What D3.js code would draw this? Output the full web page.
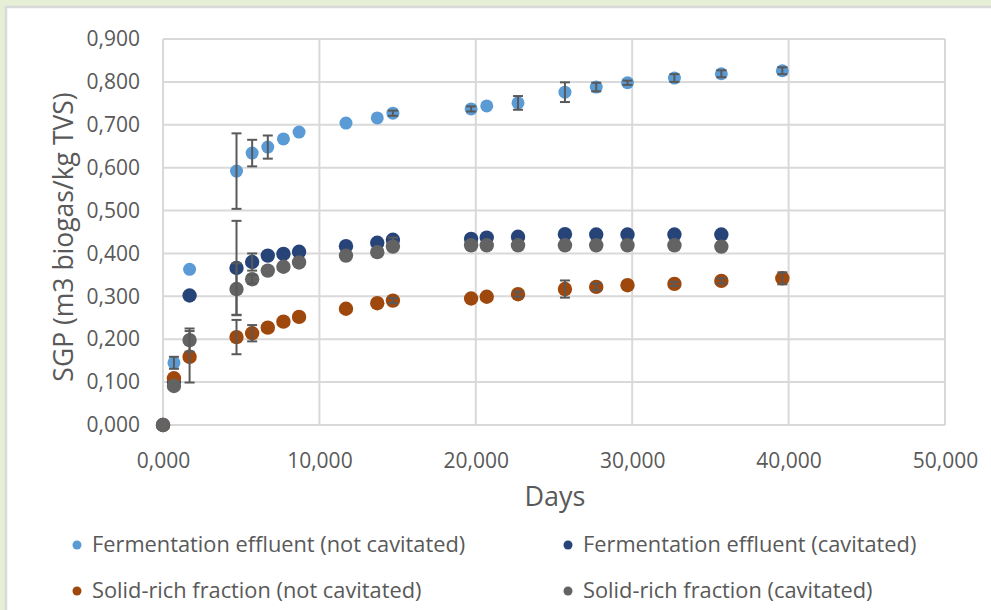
<!DOCTYPE html>
<html>
<head>
<meta charset="utf-8">
<script src="https://cdn.jsdelivr.net/npm/d3@7"></script>
<style>
  body { margin: 0; background: #e6eed6; }
  svg { display: block; font-family: "Open Sans", "Liberation Sans", sans-serif; }
</style>
</head>
<body>
<script>
// data
var days = [0, 0.7, 1.7, 4.7, 5.7, 6.7, 7.7, 8.7, 11.7, 13.7, 14.7, 19.7, 20.7, 22.7, 25.7, 27.7, 29.7, 32.7, 35.7, 39.6];

var effluentNotCav = [0, 0.145, 0.363, 0.592, 0.634, 0.648, 0.667, 0.683, 0.704, 0.716, 0.727, 0.737, 0.744, 0.751, 0.776, 0.788, 0.798, 0.809, 0.819, 0.826];
var effluentNotCavErr = [0, 0.014, 0, 0.088, 0.031, 0.027, 0, 0, 0, 0, 0.006, 0.006, 0, 0.016, 0.023, 0.01, 0.005, 0.009, 0.008, 0.008];

var effluentCav = [0, 0.1, 0.302, 0.366, 0.380, 0.395, 0.399, 0.404, 0.417, 0.425, 0.432, 0.434, 0.437, 0.439, 0.445, 0.444, 0.444, 0.444, 0.444, null];
var effluentCavErr = [0, 0, 0, 0.11, 0.02, 0, 0, 0, 0, 0, 0.005, 0, 0, 0, 0, 0, 0, 0, 0, 0];

var solidNotCav = [0, 0.109, 0.159, 0.205, 0.214, 0.227, 0.241, 0.252, 0.271, 0.284, 0.290, 0.295, 0.299, 0.305, 0.317, 0.322, 0.326, 0.329, 0.336, 0.342];
var solidNotCavErr = [0, 0, 0.06, 0.04, 0.019, 0, 0, 0, 0, 0, 0.006, 0, 0, 0.006, 0.02, 0.008, 0, 0.005, 0.006, 0.014];

var solidCav = [0, 0.091, 0.198, 0.317, 0.340, 0.360, 0.369, 0.379, 0.395, 0.403, 0.416, 0.419, 0.419, 0.419, 0.419, 0.419, 0.419, 0.419, 0.416, null];
var solidCavErr = [0, 0, 0.027, 0.06, 0.01, 0, 0, 0, 0, 0, 0, 0, 0, 0, 0, 0, 0, 0, 0, 0];

var seriesNames = ["Fermentation effluent (not cavitated)", "Fermentation effluent (cavitated)", "Solid-rich fraction (not cavitated)", "Solid-rich fraction (cavitated)"];
var seriesColors = ["#5b9bd5", "#264478", "#9e480e", "#636363"];
var xTicks = [0, 10, 20, 30, 40, 50];
var yTicks = [0, 0.1, 0.2, 0.3, 0.4, 0.5, 0.6, 0.7, 0.8, 0.9];

var width = 991, height = 610;
var plot = {left: 163, right: 945, top: 39, bottom: 425};

var svg = d3.select("body").append("svg")
    .attr("width", width)
    .attr("height", height);

// white chart panel with grey frame
svg.append("rect")
    .attr("x", 6).attr("y", 7)
    .attr("width", width + 10).attr("height", height + 10)
    .attr("fill", "#fff")
    .attr("stroke", "#d9d9d9")
    .attr("stroke-width", 2.5);

var x = d3.scaleLinear().domain([0, 50]).range([plot.left, plot.right]);
var y = d3.scaleLinear().domain([0, 0.9]).range([plot.bottom, plot.top]);

var fmt = d3.formatLocale({decimal: ",", thousands: ".", grouping: [3], currency: ["", ""]}).format(".3f");

// gridlines
var grid = svg.append("g");
grid.selectAll(".hg").data(yTicks).enter().append("line")
    .attr("x1", plot.left).attr("x2", plot.right)
    .attr("y1", d => y(d)).attr("y2", d => y(d))
    .attr("stroke", "#d9d9d9").attr("stroke-width", 2);
grid.selectAll(".vg").data(xTicks).enter().append("line")
    .attr("y1", plot.top).attr("y2", plot.bottom)
    .attr("x1", d => x(d)).attr("x2", d => x(d))
    .attr("stroke", "#d9d9d9").attr("stroke-width", 2);

// axes (labels only, lines come from the grid)
var yAxis = svg.append("g")
    .attr("transform", "translate(" + plot.left + ",0)")
    .call(d3.axisLeft(y).tickValues(yTicks).tickFormat(fmt).tickSize(0).tickPadding(23));
var xAxis = svg.append("g")
    .attr("transform", "translate(0," + plot.bottom + ")")
    .call(d3.axisBottom(x).tickValues(xTicks).tickFormat(fmt).tickSize(0).tickPadding(28));
[yAxis, xAxis].forEach(function(a) {
    a.select(".domain").remove();
    a.selectAll("text").attr("fill", "#595959").attr("font-size", "21px")
        .style("font-family", "'Open Sans', sans-serif");
});

// axis titles
svg.append("text")
    .attr("x", (plot.left + plot.right) / 2 + 1).attr("y", 506)
    .attr("text-anchor", "middle")
    .attr("fill", "#595959").attr("font-size", "27px")
    .text("Days");
svg.append("text")
    .attr("transform", "translate(73," + ((plot.top + plot.bottom) / 2 + 5) + ") rotate(-90)")
    .attr("text-anchor", "middle")
    .attr("fill", "#595959").attr("font-size", "26.5px")
    .text("SGP (m3 biogas/kg TVS)");

var allValues = [effluentNotCav, effluentCav, solidNotCav, solidCav];
var allErrors = [effluentNotCavErr, effluentCavErr, solidNotCavErr, solidCavErr];

// draw series in Excel order: later series on top
allValues.forEach(function(vals, s) {
    var pts = days.map((d, i) => ({x: d, y: vals[i], e: allErrors[s][i]}))
        .filter(p => p.y !== null);
    var g = svg.append("g");
    g.selectAll("circle").data(pts).enter().append("circle")
        .attr("cx", d => x(d.x)).attr("cy", d => y(d.y))
        .attr("r", s == 0 ? 6.5 : 7.2)
        .attr("fill", seriesColors[s]);
    var eb = g.selectAll(".err").data(pts.filter(p => p.e > 0)).enter().append("g")
        .attr("stroke", "#595959").attr("stroke-width", 2);
    eb.append("line")
        .attr("x1", d => x(d.x)).attr("x2", d => x(d.x))
        .attr("y1", d => y(d.y + d.e)).attr("y2", d => y(d.y - d.e));
    eb.append("line")
        .attr("x1", d => x(d.x) - 5).attr("x2", d => x(d.x) + 5)
        .attr("y1", d => y(d.y + d.e)).attr("y2", d => y(d.y + d.e));
    eb.append("line")
        .attr("x1", d => x(d.x) - 5).attr("x2", d => x(d.x) + 5)
        .attr("y1", d => y(d.y - d.e)).attr("y2", d => y(d.y - d.e));
});

// legend
var legend = svg.append("g");
var legPos = [[77, 545], [568, 545], [77, 591], [568, 591]];
seriesNames.forEach(function(name, i) {
    var item = legend.append("g").attr("transform", "translate(" + legPos[i][0] + "," + legPos[i][1] + ")");
    item.append("circle").attr("r", 4.5).attr("fill", seriesColors[i]);
    item.append("text")
        .attr("x", 15).attr("y", 7)
        .attr("fill", "#595959").attr("font-size", "21.8px")
        .text(name);
});
</script>
</body>
</html>
